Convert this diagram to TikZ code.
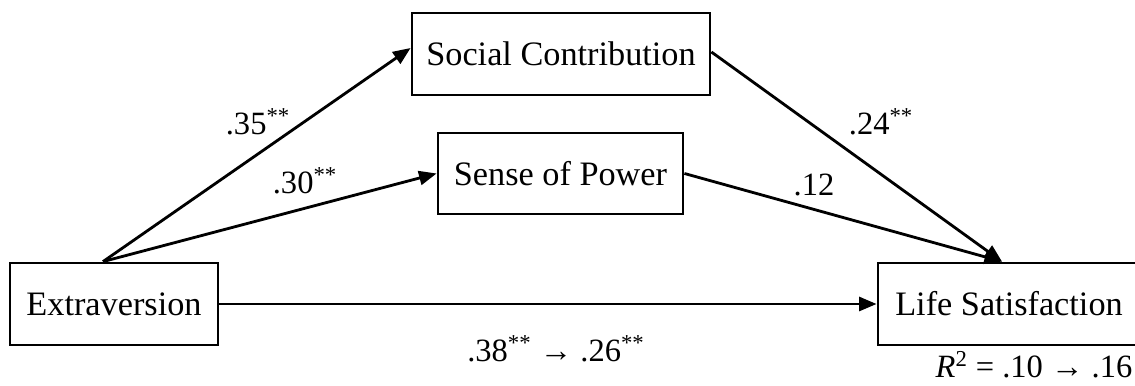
\documentclass[tikz,border=0pt]{standalone}
\usepackage{fontspec}
\setmainfont{Liberation Serif}
\usetikzlibrary{arrows.meta,positioning,calc}

\begin{document}
\begin{tikzpicture}[line width=1.6pt, font=\fontsize{19.5}{23}\selectfont,
    varbox/.style={draw, minimum height=1.64cm, inner sep=0pt},
    effect/.style={-{Triangle[length=10pt, width=8pt]}},
    coef/.style={anchor=base, font=\fontsize{18.5}{22}\selectfont}]
        \useasboundingbox (0,0) rectangle (22.7,7.72);

        % Variables.
        \node[varbox, minimum width=4.16cm] (ext) at (2.28,1.64) {Extraversion};
        \node[varbox, minimum width=5.96cm] (soc) at (11.22,6.64) {Social Contribution};
        \node[varbox, minimum width=4.90cm, minimum height=1.62cm] (pow) at (11.21,4.25) {Sense of Power};
        \node[varbox, minimum width=5.24cm] (life) at (20.18,1.64) {Life Satisfaction};

        % Paths.
        \coordinate (src) at ($(ext.north)+(-0.22,0)$);
        \coordinate (dst) at ($(life.north)+(-0.14,0)$);
        \draw[effect] (src) -- ([yshift=0.12cm]soc.west);
        \draw[effect] (src) -- (pow.west);
        \draw[effect] ([yshift=0.04cm]soc.east) -- (dst);
        \draw[effect] (pow.east) -- (dst);
        \draw[effect] (ext.east) -- (life.west);

        % Coefficients.
        \node[coef] (c35) at (5.16,5.02) {.35\textsuperscript{**}};
        \node[coef] (c30) at (6.10,3.84) {.30\textsuperscript{**}};
        \node[coef] (c24) at (17.62,5.02) {.24\textsuperscript{**}};
        \node[coef] (c12) at (16.28,3.80) {.12};
        \node[coef] (cdir) at (11.12,0.48) {.38\textsuperscript{**} → .26\textsuperscript{**}};
        \node[coef] (rsq) at (20.68,0.16) {\textit{R}\textsuperscript{2} = .10 → .16};
    \end{tikzpicture}
\end{document}
